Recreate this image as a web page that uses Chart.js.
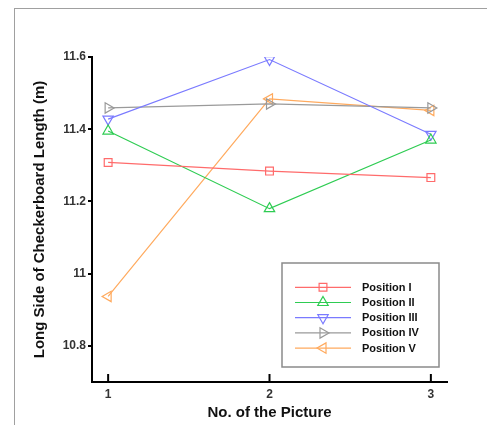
<!DOCTYPE html>
<html>
<head>
<meta charset="utf-8">
<script src="https://cdn.jsdelivr.net/npm/chart.js@4"></script>
<style>
  html, body { margin: 0; padding: 0; background: #fff; }
  #wrap { position: relative; width: 487px; height: 425px; }
  #frame { position: absolute; left: 14px; top: 8px; right: 0; bottom: 0; border-left: 1px solid #a0a0a0; border-top: 1px solid #a0a0a0; }
  canvas { position: absolute; left: 0; top: 0; }
</style>
</head>
<body>
<div id="wrap">
  <div id="frame"></div>
  <canvas id="chart" width="487" height="425"></canvas>
</div>
<script>
// picture numbers and measured lengths
const pictures = [1, 2, 3];
const posI   = [11.308, 11.284, 11.266];
const posII  = [11.395, 11.180, 11.370];
const posIII = [11.428, 11.593, 11.386];
const posIV  = [11.459, 11.470, 11.459];
const posV   = [10.937, 11.484, 11.452];

const seriesNames = ['Position I', 'Position II', 'Position III', 'Position IV', 'Position V'];
const yTicks = [10.8, 11, 11.2, 11.4, 11.6];
const xTicks = [1, 2, 3];

const styles = [
    { color: '#ff6b6b', pointStyle: 'rect', rotation: 0, radius: 5.5 },
    { color: '#2ecc52', pointStyle: 'triangle', rotation: 0, radius: 6 },
    { color: '#7a7aff', pointStyle: 'triangle', rotation: 180, radius: 6 },
    { color: '#9a9a9a', pointStyle: 'triangle', rotation: 90, radius: 6 },
    { color: '#ffaa5e', pointStyle: 'triangle', rotation: -90, radius: 6 }
];

const allSeries = [posI, posII, posIII, posIV, posV];
const datasets = allSeries.map((vals, i) => ({
    label: seriesNames[i],
    data: vals.map((v, j) => ({ x: pictures[j], y: v })),
    showLine: true,
    borderColor: styles[i].color,
    borderWidth: 1.2,
    backgroundColor: 'rgba(0,0,0,0)',
    pointStyle: styles[i].pointStyle,
    rotation: styles[i].rotation,
    pointRadius: styles[i].radius,
    pointBorderWidth: 1.2,
    pointBorderColor: styles[i].color,
    pointBackgroundColor: 'rgba(0,0,0,0)'
}));

// x ticks point upward into the plot
const innerTicks = {
    id: 'innerTicks',
    afterDraw(chart) {
        const ctx = chart.ctx;
        const xs = chart.scales.x;
        ctx.save();
        ctx.strokeStyle = '#000';
        ctx.lineWidth = 2;
        xTicks.forEach(v => {
            const px = xs.getPixelForValue(v);
            ctx.beginPath();
            ctx.moveTo(px, xs.top);
            ctx.lineTo(px, xs.top - 8);
            ctx.stroke();
        });
        ctx.restore();
    }
};

// boxed legend inside the plot, line through marker like matlab
const boxLegend = {
    id: 'boxLegend',
    afterDraw(chart) {
        const ctx = chart.ctx;
        const x0 = 282, y0 = 263, w = 157, h = 104;
        ctx.save();
        ctx.fillStyle = '#fff';
        ctx.fillRect(x0, y0, w, h);
        ctx.strokeStyle = '#8a8a8a';
        ctx.lineWidth = 1.5;
        ctx.strokeRect(x0, y0, w, h);
        ctx.font = 'bold 11px "Liberation Sans", Arial, sans-serif';
        ctx.textBaseline = 'middle';
        chart.data.datasets.forEach((ds, i) => {
            const ry = 287.3 + i * 15.2;
            ctx.strokeStyle = ds.borderColor;
            ctx.lineWidth = 1.2;
            ctx.beginPath();
            ctx.moveTo(295, ry);
            ctx.lineTo(351, ry);
            ctx.stroke();
            ctx.fillStyle = 'rgba(0,0,0,0)';
            Chart.helpers.drawPoint(ctx, {
                pointStyle: ds.pointStyle,
                rotation: ds.rotation,
                radius: ds.pointRadius,
                borderWidth: 1.2
            }, 323, ry);
            ctx.fillStyle = '#111';
            ctx.fillText(ds.label, 362, ry + 0.5);
        });
        ctx.restore();
    }
};

const tickFont = { family: '"Liberation Sans", Arial, sans-serif', size: 12, weight: 'bold' };
const titleFont = { family: '"Liberation Sans", Arial, sans-serif', size: 15, weight: 'bold' };

new Chart(document.getElementById('chart'), {
    type: 'scatter',
    data: { datasets: datasets },
    options: {
        responsive: false,
        animation: false,
        layout: { padding: { left: 0, top: 57, right: 40, bottom: 0 } },
        plugins: { legend: { display: false }, tooltip: { enabled: false } },
        scales: {
            x: {
                type: 'linear',
                min: 0.9,
                max: 3.1,
                afterBuildTicks: s => { s.ticks = xTicks.map(v => ({ value: v })); },
                afterFit: s => { s.height = 43; },
                grid: { display: false, drawTicks: false },
                border: { display: true, color: '#000', width: 2 },
                ticks: {
                    padding: 5,
                    color: '#333',
                    font: tickFont,
                    callback: v => String(v)
                },
                title: {
                    display: true,
                    text: 'No. of the Picture',
                    color: '#111',
                    font: titleFont,
                    padding: { top: 0, bottom: 3 }
                }
            },
            y: {
                min: 10.7,
                max: 11.6,
                afterBuildTicks: s => { s.ticks = yTicks.map(v => ({ value: v })); },
                afterFit: s => { s.width = 92; },
                grid: { display: true, drawOnChartArea: false, drawTicks: true, tickLength: 4, color: '#000', lineWidth: 2 },
                border: { display: true, color: '#000', width: 2 },
                ticks: {
                    padding: 2,
                    color: '#333',
                    font: tickFont,
                    callback: v => String(Math.round(v * 10) / 10)
                },
                title: {
                    display: true,
                    text: 'Long Side of Checkerboard Length (m)',
                    color: '#111',
                    font: titleFont,
                    padding: { top: 31, bottom: 0 }
                }
            }
        }
    },
    plugins: [innerTicks, boxLegend]
});
</script>
</body>
</html>
